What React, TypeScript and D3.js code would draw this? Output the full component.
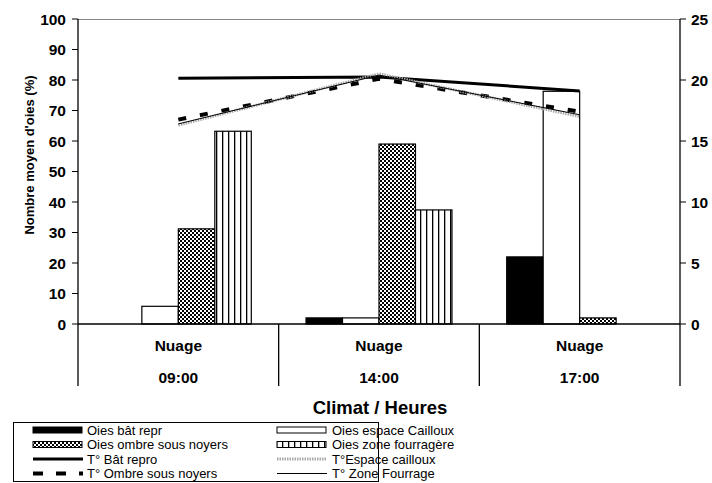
import React from "react";
import * as d3 from "d3";

const categories = ["09:00", "14:00", "17:00"];
const climat = ["Nuage", "Nuage", "Nuage"];
const barSeries = ["Oies bât repr", "Oies espace Cailloux", "Oies ombre sous noyers", "Oies zone fourragère"];
const oiesBat = [0, 2, 22];
const oiesCailloux = [5.8, 2, 76.3];
const oiesOmbre = [31.2, 59, 2];
const oiesFourrage = [63.2, 37.4, 0];
const tBat = [20.15, 20.25, 19.1];
const tOmbre = [16.75, 20.1, 17.4];
const tCailloux = [16.3, 20.5, 17.0];
const tFourrage = [16.4, 20.4, 17.15];
const leftTicks = [0, 10, 20, 30, 40, 50, 60, 70, 80, 90, 100];
const rightTicks = [0, 5, 10, 15, 20, 25];

const FONT = "'Liberation Sans', Arial, sans-serif";

export default function App() {
  const W = 712, H = 483;
  const x0 = 78, x1 = 680, yTop = 19, yBot = 324;
  const x = d3.scaleBand<string>().domain(categories).range([x0, x1]).padding(0);
  const xi = d3.scaleBand<string>().domain(barSeries).range([0, x.bandwidth()]).paddingInner(0).paddingOuter(0.75);
  const yL = d3.scaleLinear().domain([0, 100]).range([yBot, yTop]);
  const yR = d3.scaleLinear().domain([0, 25]).range([yBot, yTop]);
  const barData = [oiesBat, oiesCailloux, oiesOmbre, oiesFourrage];
  const fills = ["#000", "#fff", "url(#checker)", "url(#vstripes)"];
  const cx = (i: number) => (x(categories[i]) as number) + x.bandwidth() / 2;
  const line = (vals: number[]) =>
    d3.line<number>().x((_, i) => cx(i)).y((v) => yR(v))(vals) as string;

  const legendRows = [
    { col: 0, row: 0, label: "Oies bât repr", kind: "rect", fill: "#000" },
    { col: 1, row: 0, label: "Oies espace Cailloux", kind: "rect", fill: "#fff" },
    { col: 0, row: 1, label: "Oies ombre sous noyers", kind: "rect", fill: "url(#checker)" },
    { col: 1, row: 1, label: "Oies zone fourragère", kind: "rect", fill: "url(#vstripes)" },
    { col: 0, row: 2, label: "T° Bât repro", kind: "solid" },
    { col: 1, row: 2, label: "T°Espace cailloux", kind: "gray" },
    { col: 0, row: 3, label: "T° Ombre sous noyers", kind: "dash" },
    { col: 1, row: 3, label: "T° Zone Fourrage", kind: "thin" },
  ];
  const colX = [33, 277];
  const rowY = [430, 444.5, 459, 473.5];

  return (
    <svg width={W} height={H} style={{ position: "absolute", left: 0, top: 0, background: "#fff" }} fontFamily={FONT}>
      <defs>
        <pattern id="checker" width="4" height="4" patternUnits="userSpaceOnUse">
          <rect width="4" height="4" fill="#fff" />
          <rect x="0" y="0" width="2" height="2" fill="#000" />
          <rect x="2" y="2" width="2" height="2" fill="#000" />
        </pattern>
        <pattern id="vstripes" width="6" height="6" patternUnits="userSpaceOnUse">
          <rect width="6" height="6" fill="#fff" />
          <rect x="0" y="0" width="1.3" height="6" fill="#000" />
        </pattern>
      </defs>
      <rect width={W} height={H} fill="#fff" />
      <line x1={x0} x2={x1} y1={yTop + 0.5} y2={yTop + 0.5} stroke="#888" strokeWidth={1} />
      {categories.map((c, ci) =>
        barSeries.map((s, si) => {
          const v = barData[si][ci];
          if (v <= 0) return null;
          const bx = (x(c) as number) + (xi(s) as number);
          return (
            <rect key={c + s} x={bx} y={yL(v)} width={xi.bandwidth()} height={yBot - yL(v)}
              fill={fills[si]} stroke="#000" strokeWidth={1.2} />
          );
        })
      )}
      <path d={line(tBat)} fill="none" stroke="#000" strokeWidth={3} />
      <path d={line(tOmbre)} fill="none" stroke="#000" strokeWidth={4} strokeDasharray="8 14" />
      <path d={line(tCailloux)} fill="none" stroke="#aaa" strokeWidth={3} strokeDasharray="1.5 1" />
      <path d={line(tFourrage)} fill="none" stroke="#000" strokeWidth={1} />
      <line x1={x0} x2={x1} y1={yBot} y2={yBot} stroke="#000" strokeWidth={1.3} />
      <line x1={x0} x2={x0} y1={yTop} y2={386} stroke="#000" strokeWidth={1.3} />
      <line x1={x1} x2={x1} y1={yTop} y2={386} stroke="#000" strokeWidth={1.3} />
      {categories.slice(1).map((c) => (
        <line key={c} x1={x(c) as number} x2={x(c) as number} y1={yBot} y2={386} stroke="#000" strokeWidth={1.3} />
      ))}
      {leftTicks.map((t) => (
        <g key={"l" + t}>
          <line x1={x0 - 6} x2={x0} y1={yL(t)} y2={yL(t)} stroke="#000" />
          <text x={66} y={yL(t) + 5.5} textAnchor="end" fontSize={15.5} fontWeight="bold">{t}</text>
        </g>
      ))}
      {rightTicks.map((t) => (
        <g key={"r" + t}>
          <line x1={x1} x2={x1 + 6} y1={yR(t)} y2={yR(t)} stroke="#000" />
          <text x={691} y={yR(t) + 5.5} textAnchor="start" fontSize={15.5} fontWeight="bold">{t}</text>
        </g>
      ))}
      {categories.map((c, i) => (
        <g key={"c" + c}>
          <text x={cx(i)} y={351} textAnchor="middle" fontSize={15.5} fontWeight="bold">{climat[i]}</text>
          <text x={cx(i)} y={383} textAnchor="middle" fontSize={15.5} fontWeight="bold">{c}</text>
        </g>
      ))}
      <text transform="translate(34,155) rotate(-90)" textAnchor="middle" fontSize={13} fontWeight="bold">
        Nombre moyen d'oies (%)
      </text>
      <text x={380} y={414} textAnchor="middle" fontSize={18.5} fontWeight="bold">Climat / Heures</text>
      <rect x={13.5} y={422.5} width={365} height={59} fill="#fff" stroke="#000" strokeWidth={1} />
      {legendRows.map((r) => {
        const lx = colX[r.col];
        const ly = rowY[r.row];
        let sym: React.ReactNode = null;
        if (r.kind === "rect") {
          sym = <rect x={lx} y={ly - 3} width={49} height={6} fill={r.fill} stroke="#000" strokeWidth={1} />;
        } else if (r.kind === "solid") {
          sym = <line x1={lx} x2={lx + 50} y1={ly} y2={ly} stroke="#000" strokeWidth={3} />;
        } else if (r.kind === "dash") {
          sym = <line x1={lx} x2={lx + 50} y1={ly} y2={ly} stroke="#000" strokeWidth={4} strokeDasharray="10 13" />;
        } else if (r.kind === "gray") {
          sym = <line x1={lx} x2={lx + 50} y1={ly} y2={ly} stroke="#aaa" strokeWidth={3} strokeDasharray="1.5 1" />;
        } else {
          sym = <line x1={lx} x2={lx + 50} y1={ly} y2={ly} stroke="#000" strokeWidth={1} />;
        }
        return (
          <g key={r.label}>
            {sym}
            <text x={lx + (r.col === 0 ? 54 : 55)} y={ly + 4.5} fontSize={13}>{r.label}</text>
          </g>
        );
      })}
    </svg>
  );
}
